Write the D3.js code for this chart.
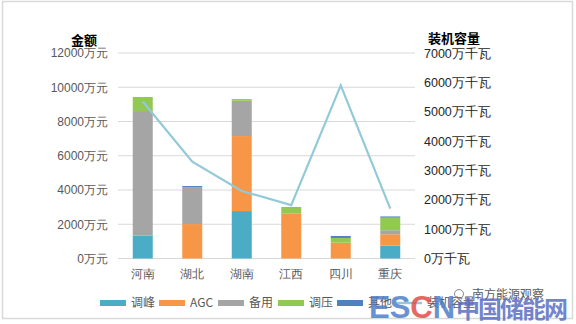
<!DOCTYPE html>
<html>
<head>
<meta charset="utf-8">
<script src="https://cdn.jsdelivr.net/npm/d3@7"></script>
<style>
  html, body { margin: 0; padding: 0; background: #fff; }
  svg { display: block; font-family: "Noto Sans CJK SC", "Noto Sans", sans-serif; }
</style>
</head>
<body>
<svg id="chart" width="576" height="324"></svg>
<script>
// Provinces along the x axis
const provinces = ["河南", "湖北", "湖南", "江西", "四川", "重庆"];

// Stacked amounts per service type (万元)
const peakShaving = [1330, 0, 2770, 0, 0, 750];     // 调峰
const agc         = [0, 2010, 4380, 2615, 925, 665]; // AGC
const reserve     = [7280, 2160, 2060, 0, 0, 235];   // 备用
const voltage     = [820, 0, 100, 395, 275, 735];    // 调压
const other       = [0, 60, 0, 0, 115, 70];          // 其他

// Installed capacity (万千瓦), plotted on the right axis
const capacity = [5350, 3300, 2300, 1820, 5900, 1700];

const seriesNames = ["调峰", "AGC", "备用", "调压", "其他"];
const seriesColors = ["#4BACC6", "#F79646", "#A5A5A5", "#92C953", "#4F81BD"];
const lineName = "装机容量";
const lineColor = "#93C9D8";

const leftTicks = [0, 2000, 4000, 6000, 8000, 10000, 12000];
const rightTicks = [0, 1000, 2000, 3000, 4000, 5000, 6000, 7000];

const svg = d3.select("#chart");
const W = 576, H = 324;

// light frame around the picture
svg.append("rect").attr("x", 2.5).attr("y", 1.5).attr("width", W - 6).attr("height", H - 7)
  .attr("fill", "none").attr("stroke", "#d9d9d9").attr("stroke-width", 1.5);

const plot = { left: 118, right: 415, top: 53, bottom: 258.5 };

const x = d3.scaleBand().domain(provinces).range([plot.left, plot.right])
  .paddingInner(0.596).paddingOuter(0.298);
const yL = d3.scaleLinear().domain([0, 12000]).range([plot.bottom, plot.top]);
const yR = d3.scaleLinear().domain([0, 7000]).range([plot.bottom, plot.top]);

// gridlines
svg.append("g").selectAll("line").data(leftTicks).join("line")
  .attr("x1", plot.left).attr("x2", plot.right)
  .attr("y1", d => yL(d)).attr("y2", d => yL(d))
  .attr("stroke", "#d9d9d9").attr("stroke-width", 1);

// left axis
const leftAxis = svg.append("g").attr("transform", `translate(${plot.left - 10},0)`)
  .call(d3.axisLeft(yL).tickValues(leftTicks).tickSize(0).tickPadding(0).tickFormat(d => d + "万元"));
leftAxis.select(".domain").remove();
leftAxis.selectAll("text").attr("font-size", 12).attr("fill", "#595959");

// right axis
const rightAxis = svg.append("g").attr("transform", `translate(${plot.right + 9},0)`)
  .call(d3.axisRight(yR).tickValues(rightTicks).tickSize(0).tickPadding(0).tickFormat(d => d + "万千瓦"));
rightAxis.select(".domain").remove();
rightAxis.selectAll("text").attr("font-size", 12.5).attr("fill", "#262626");

// bottom axis labels
const bottomAxis = svg.append("g").attr("transform", `translate(0,${plot.bottom + 10})`)
  .call(d3.axisBottom(x).tickSize(0).tickPadding(0));
bottomAxis.select(".domain").remove();
bottomAxis.selectAll("text").attr("font-size", 12).attr("fill", "#595959").attr("dy", "0.75em");

// axis titles
svg.append("text").attr("x", 84).attr("y", 45).attr("text-anchor", "middle")
  .attr("font-size", 13).attr("font-weight", "bold").attr("fill", "#000").text("金额");
svg.append("text").attr("x", 454).attr("y", 43).attr("text-anchor", "middle")
  .attr("font-size", 13).attr("font-weight", "bold").attr("fill", "#000").text(lineName);

// stacked bars
const rows = provinces.map((p, i) => ({
  province: p,
  "调峰": peakShaving[i], "AGC": agc[i], "备用": reserve[i], "调压": voltage[i], "其他": other[i]
}));
const stacked = d3.stack().keys(seriesNames)(rows);
svg.append("g").selectAll("g").data(stacked).join("g")
  .attr("fill", (d, i) => seriesColors[i])
  .selectAll("rect").data(d => d).join("rect")
  .attr("x", d => x(d.data.province))
  .attr("width", x.bandwidth())
  .attr("y", d => yL(d[1]))
  .attr("height", d => yL(d[0]) - yL(d[1]));

// capacity line
const line = d3.line()
  .x((d, i) => x(provinces[i]) + x.bandwidth() / 2)
  .y(d => yR(d));
svg.append("path").datum(capacity).attr("d", line)
  .attr("fill", "none").attr("stroke", lineColor).attr("stroke-width", 2.2);

// legend
const legendY = 303;
const legendX = [100, 159, 218, 278, 337, 396];
const legendItems = seriesNames.map((n, i) => ({ name: n, color: seriesColors[i], kind: "bar" }))
  .concat([{ name: lineName, color: lineColor, kind: "line" }]);
const lg = svg.append("g").selectAll("g").data(legendItems).join("g")
  .attr("transform", (d, i) => `translate(${legendX[i]},${legendY})`);
lg.append("rect").attr("x", 0).attr("y", d => d.kind === "bar" ? -3 : -1.2)
  .attr("width", 26).attr("height", d => d.kind === "bar" ? 6 : 2.4)
  .attr("fill", d => d.color);
lg.append("text").attr("x", 31).attr("y", 0).attr("dy", "0.35em")
  .attr("font-size", 12).attr("fill", "#595959").text(d => d.name);

// site marks in the lower right corner
const mark = svg.append("g");
mark.append("text").attr("x", 472).attr("y", 299).attr("font-size", 12)
  .attr("fill", "#404040").attr("opacity", 0.85).text("南方能源观察");
mark.append("circle").attr("cx", 459).attr("cy", 294).attr("r", 4.5)
  .attr("fill", "none").attr("stroke", "#888").attr("stroke-width", 1);
const logo = mark.append("text").attr("x", 369).attr("y", 318)
  .attr("font-size", 31).attr("font-weight", "bold").attr("font-family", "Arial, 'Liberation Sans', sans-serif")
  .attr("opacity", 0.85);
logo.append("tspan").attr("fill", "#4F7FC9").text("ES");
logo.append("tspan").attr("fill", "#E0504A").text("C");
logo.append("tspan").attr("fill", "#4F7FC9").text("N");
mark.append("text").attr("x", 456).attr("y", 318).attr("font-size", 24).attr("font-weight", "bold")
  .attr("fill", "#5B6FC4").attr("opacity", 0.85).attr("textLength", 112).text("中国储能网");
</script>
</body>
</html>
